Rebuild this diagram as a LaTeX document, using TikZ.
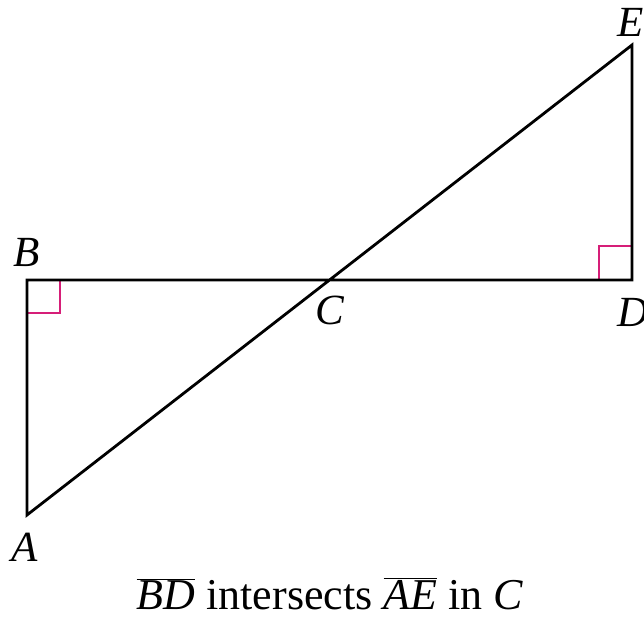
\documentclass[tikz,border=0pt]{standalone}
\usepackage{fontspec}
\setmainfont{Liberation Serif}
\definecolor{rightmark}{RGB}{214,30,120}
\begin{document}
\begin{tikzpicture}[x=1pt,y=-1pt,
  seg/.style={line width=2.8pt,line cap=butt,line join=miter},
  rtmark/.style={line width=2.6pt,draw=rightmark},
  lbl/.style={font=\fontsize{43}{50}\selectfont\itshape,inner sep=0pt}]
\useasboundingbox (0,0) rectangle (644,618);
\coordinate (A) at (27,515);
\coordinate (B) at (27,280);
\coordinate (D) at (632,280);
\coordinate (E) at (632,45);
\coordinate (C) at (329.5,280);
\draw[rtmark] (27,313) -- (60,313) -- (60,280);
\draw[rtmark] (599,280) -- (599,246) -- (632,246);
\draw[seg] (A) -- (B) -- (D) -- (E) -- cycle;
\node[lbl] (lB) at (27,252) {B};
\node[lbl] (lC) at (330,310) {C};
\node[lbl] (lD) at (633,312) {D};
\node[lbl] (lE) at (631,22) {E};
\node[lbl] (lA) at (25,547) {A};
\node[font=\fontsize{44}{52}\selectfont,inner sep=0pt,anchor=base] (cap) at (330,609)
  {$\overline{\mbox{\itshape BD}}$ intersects $\overline{\mbox{\itshape AE}}$ in \textit{C}};
\end{tikzpicture}
\end{document}
